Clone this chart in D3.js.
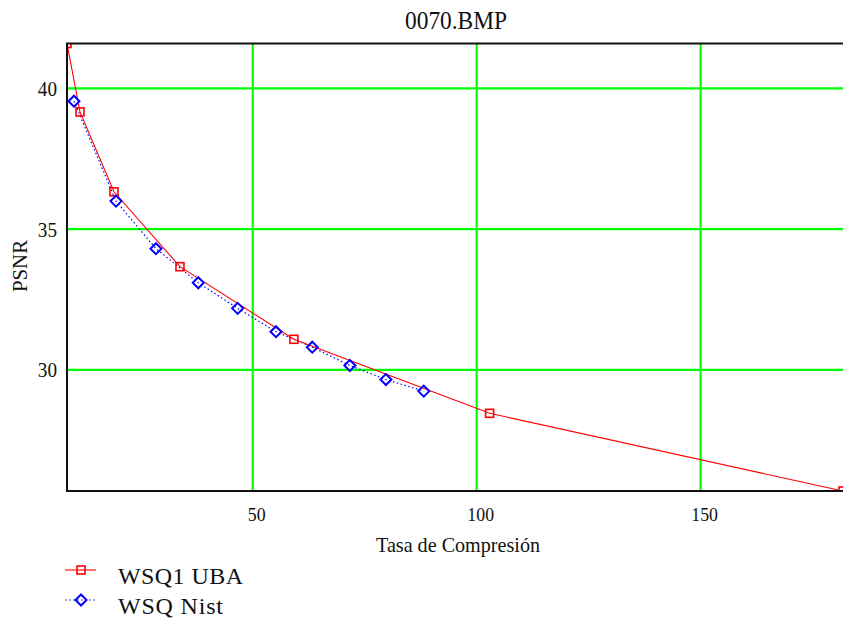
<!DOCTYPE html>
<html>
<head>
<meta charset="utf-8">
<script src="https://cdn.jsdelivr.net/npm/d3@7"></script>
<style>
  html, body { margin: 0; padding: 0; background: #fff; }
  svg { display: block; font-family: "Liberation Serif", "Times New Roman", serif; }
</style>
</head>
<body>
<svg id="chart" width="843" height="621"></svg>
<script>
// Compression ratio vs PSNR for image 0070.BMP
const uba_x  = [8.64, 11.54, 19.13, 33.86, 59.3, 103.0, 181.9];
const uba_y  = [41.58, 39.15, 36.31, 33.65, 31.07, 28.44, 25.68];
const nist_x = [10.2, 19.58, 28.5, 37.95, 46.74, 55.3, 63.4, 71.8, 79.84, 88.3];
const nist_y = [39.53, 35.98, 34.29, 33.08, 32.17, 31.34, 30.79, 30.14, 29.64, 29.23];
const xTicks = [50, 100, 150];
const yTicks = [30, 35, 40];
const seriesNames = ["WSQ1 UBA", "WSQ Nist"];

const svg = d3.select("#chart");
const plotL = 67, plotR = 843, plotT = 43.5, plotB = 491;

const x = d3.scaleLinear().domain([8.64, 181.9]).range([plotL, plotR]);
const y = d3.scaleLinear().domain([25.68, 41.58]).range([plotB, plotT]);

// clip region for the plot body
svg.append("defs").append("clipPath").attr("id", "plotClip")
  .append("rect").attr("x", plotL).attr("y", plotT)
  .attr("width", plotR - plotL).attr("height", plotB - plotT);

// slightly condensed serif text: glyph width per character
const narrow = (sel, perChar) =>
  sel.attr("textLength", function () { return this.textContent.length * perChar; })
     .attr("lengthAdjust", "spacingAndGlyphs");

// grid lines + tick labels
const gx = svg.append("g").attr("transform", `translate(0,${plotB})`)
  .call(d3.axisBottom(x).tickValues(xTicks).tickSizeInner(-(plotB - plotT)).tickSizeOuter(0).tickPadding(0));
gx.select(".domain").remove();
gx.selectAll(".tick line").attr("stroke", "#00ff00").attr("stroke-width", 2.2);
gx.selectAll(".tick text").attr("fill", "#111").attr("font-size", 19)
  .attr("font-family", "Liberation Serif, serif")
  .attr("dy", null).attr("y", 30).attr("x", 4)
  .call(narrow, 8.9);

const gy = svg.append("g").attr("transform", `translate(${plotL},0)`)
  .call(d3.axisLeft(y).tickValues(yTicks).tickSizeInner(-(plotR - plotL)).tickSizeOuter(0).tickPadding(0));
gy.select(".domain").remove();
gy.selectAll(".tick line").attr("stroke", "#00ff00").attr("stroke-width", 2.2);
gy.selectAll(".tick text").attr("fill", "#111").attr("font-size", 21)
  .attr("font-family", "Liberation Serif, serif")
  .attr("x", -10).attr("dy", "0.36em")
  .call(narrow, 9.6);

const body = svg.append("g").attr("clip-path", "url(#plotClip)");

const ubaPts = uba_x.map((v, i) => [v, uba_y[i]]);
const nistPts = nist_x.map((v, i) => [v, nist_y[i]]);
const line = d3.line().x(d => x(d[0])).y(d => y(d[1]));

body.append("path").datum(nistPts).attr("d", line)
  .attr("fill", "none").attr("stroke", "#0000ff").attr("stroke-width", 1.2)
  .attr("stroke-dasharray", "1.5,2.5");
body.append("path").datum(ubaPts).attr("d", line)
  .attr("fill", "none").attr("stroke", "#ff0000").attr("stroke-width", 1.1);

const sq = 8;
body.selectAll("rect.uba").data(ubaPts).enter().append("rect")
  .attr("class", "uba")
  .attr("x", d => x(d[0]) - sq / 2).attr("y", d => y(d[1]) - sq / 2)
  .attr("width", sq).attr("height", sq)
  .attr("fill", "none").attr("stroke", "#ff0000").attr("stroke-width", 1.6);

const dm = 5.5;
const diamond = (cx, cy) => `M${cx},${cy - dm}L${cx + dm},${cy}L${cx},${cy + dm}L${cx - dm},${cy}Z`;
body.selectAll("path.nist").data(nistPts).enter().append("path")
  .attr("class", "nist")
  .attr("d", d => diamond(x(d[0]), y(d[1])))
  .attr("fill", "none").attr("stroke", "#0000ff").attr("stroke-width", 2);

// frame
svg.append("rect").attr("x", plotL).attr("y", plotT)
  .attr("width", plotR - plotL + 2).attr("height", plotB - plotT)
  .attr("fill", "none").attr("stroke", "#111").attr("stroke-width", 2);

// titles
svg.append("text").attr("x", 456).attr("y", 29).attr("text-anchor", "middle")
  .attr("font-size", 25).attr("fill", "#111")
  .attr("textLength", 102).attr("lengthAdjust", "spacingAndGlyphs").text("0070.BMP");
svg.append("text").attr("x", 458).attr("y", 552).attr("text-anchor", "middle")
  .attr("font-size", 22).attr("fill", "#111")
  .attr("textLength", 164).attr("lengthAdjust", "spacingAndGlyphs").text("Tasa de Compresión");
svg.append("text").attr("transform", "translate(27,266) rotate(-90)")
  .attr("text-anchor", "middle").attr("font-size", 20).attr("fill", "#111")
  .attr("textLength", 52).attr("lengthAdjust", "spacingAndGlyphs").text("PSNR");

// legend
const lg = svg.append("g");
const rows = [
  { name: seriesNames[0], color: "#ff0000", dash: null, y: 570, sym: "square", w: 125 },
  { name: seriesNames[1], color: "#0000ff", dash: "1.5,2.5", y: 600, sym: "diamond", w: 105 }
];
rows.forEach(r => {
  lg.append("line").attr("x1", 65).attr("x2", 96).attr("y1", r.y).attr("y2", r.y)
    .attr("stroke", r.color).attr("stroke-width", 1.1).attr("stroke-dasharray", r.dash);
  if (r.sym === "square") {
    lg.append("rect").attr("x", 81 - sq / 2).attr("y", r.y - sq / 2).attr("width", sq).attr("height", sq)
      .attr("fill", "none").attr("stroke", r.color).attr("stroke-width", 1.6);
  } else {
    lg.append("path").attr("d", diamond(81, r.y))
      .attr("fill", "none").attr("stroke", r.color).attr("stroke-width", 2);
  }
  lg.append("text").attr("x", 118).attr("y", r.y + 13.5).attr("font-size", 24)
    .attr("textLength", r.w).attr("lengthAdjust", "spacing")
    .attr("fill", "#111").text(r.name);
});
</script>
</body>
</html>
